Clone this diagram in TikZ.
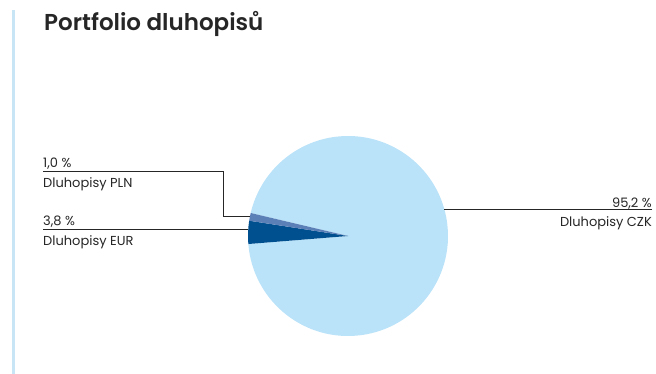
\documentclass[tikz,border=0pt]{standalone}
\usepackage{fontspec}
\setmainfont{Poppins}[BoldFont={Poppins SemiBold}]
\definecolor{czkblue}{HTML}{BAE2F8}
\definecolor{eurblue}{HTML}{00508F}
\definecolor{plnblue}{HTML}{5B80B8}
\definecolor{barblue}{HTML}{C8E5F6}
\definecolor{inkgrey}{HTML}{262626}
\tikzset{
  leader/.style={draw=inkgrey, line width=0.9pt},
  lbl/.style={inner sep=0pt, text=inkgrey, font=\fontsize{13}{15}\selectfont}
}
\begin{document}
\begin{tikzpicture}[x=1pt,y=-1pt]
  \useasboundingbox (0,0) rectangle (656,374);
  \draw[barblue, line width=2.5pt] (13.5,10) -- (13.5,374);
  \node[anchor=base west, inner sep=0pt, text=inkgrey,
        font=\bfseries\fontsize{23}{27}\selectfont] (title) at (44,31) {Portfolio dluhopisů};

  % pie
  \coordinate (c) at (348,236);
  \fill[czkblue] (c) -- ++(184.6:100pt) arc[start angle=184.6, end angle=526.7, radius=100pt] -- cycle;
  \fill[eurblue] (c) -- ++(171.2:100pt) arc[start angle=171.2, end angle=184.6, radius=100pt] -- cycle;
  \fill[plnblue] (c) -- ++(166.7:100pt) arc[start angle=166.7, end angle=171.2, radius=100pt] -- cycle;

  \path (c) ++(169:100pt) coordinate (pln-edge);
  \path (c) ++(176.2:100pt) coordinate (eur-edge);
  \path (c) ++(15.5:100pt) coordinate (czk-edge);

  % labels
  \node[lbl, anchor=base west] (pln-val) at (43,168) {1,0 \%};
  \node[lbl, anchor=base west] (pln-name) at (43,187.5) {Dluhopisy PLN};
  \node[lbl, anchor=base west] (eur-val) at (43,225.5) {3,8 \%};
  \node[lbl, anchor=base west] (eur-name) at (43,245) {Dluhopisy EUR};
  \node[lbl, anchor=base east] (czk-val) at (652,207.5) {95,2 \%};
  \node[lbl, anchor=base east] (czk-name) at (652,226) {Dluhopisy CZK};

  \coordinate (pln-tick) at (43,171.7);
  \coordinate (pln-bend) at (223,171.7);
  \coordinate (eur-tick) at (43,229.3);
  \coordinate (czk-tick) at (652,209.3);

  \draw[leader] (pln-tick) -- (pln-bend) |- (pln-edge);
  \draw[leader] (eur-tick) -- (eur-tick -| eur-edge);
  \draw[leader] (czk-tick) -- (czk-tick -| czk-edge);
\end{tikzpicture}
\end{document}
